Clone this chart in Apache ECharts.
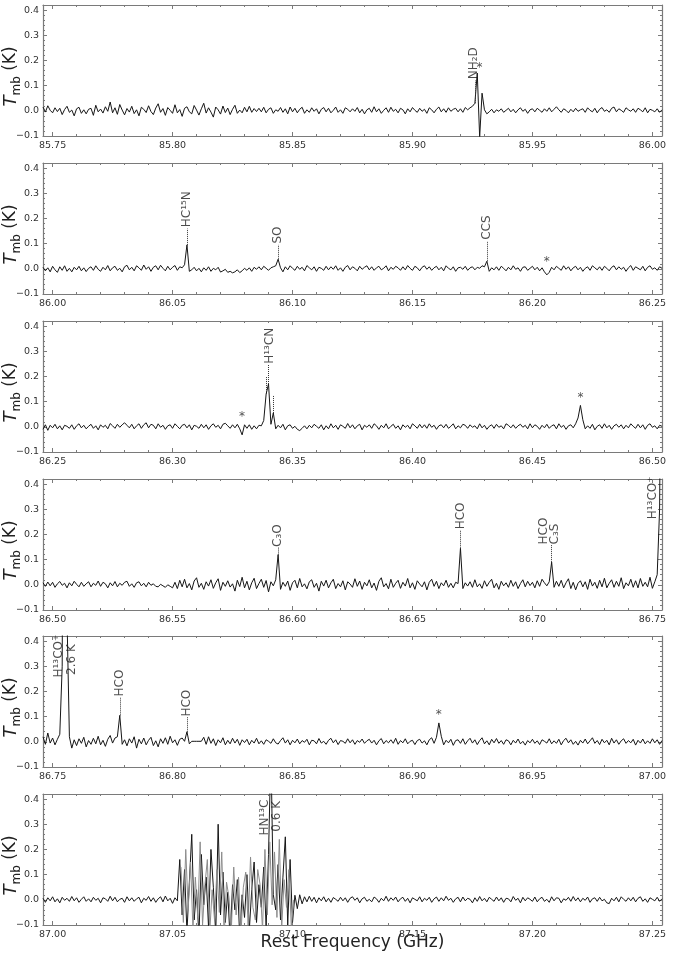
<!DOCTYPE html>
<html>
<head>
<meta charset="utf-8">
<script src="https://cdn.jsdelivr.net/npm/echarts@6/dist/echarts.min.js"></script>
<style>
html, body { margin: 0; padding: 0; background: #fff; }
#chart { width: 677px; height: 959px; }
</style>
</head>
<body>
<div id="chart"></div>
<script>
// panel start frequencies (GHz), one channel = 1 MHz
const panelStarts = [85.746, 85.996, 86.246, 86.496, 86.746, 86.996];
const panelSpan = 0.258;
const chanStep = 0.001;

// tick labels
const xMajorTicks = [
  [85.75, 85.80, 85.85, 85.90, 85.95, 86.00],
  [86.00, 86.05, 86.10, 86.15, 86.20, 86.25],
  [86.25, 86.30, 86.35, 86.40, 86.45, 86.50],
  [86.50, 86.55, 86.60, 86.65, 86.70, 86.75],
  [86.75, 86.80, 86.85, 86.90, 86.95, 87.00],
  [87.00, 87.05, 87.10, 87.15, 87.20, 87.25]
];
const yMajorTicks = [-0.1, 0.0, 0.1, 0.2, 0.3, 0.4];

// spectra, Tmb in mK, one value per channel from panel start
const spec1 = [
  15,-5,20,2,-8,12,-3,10,-15,5,18,-6,3,-20,8,14,-10,4,-12,6,
  10,-18,22,-4,7,-9,16,-2,35,-8,12,-14,25,3,-16,9,-5,18,-11,4,
  -20,14,6,-7,20,-3,-15,11,28,-6,9,-18,13,2,-10,24,-8,5,-22,10,
  16,-4,-12,21,3,-17,8,30,-9,12,-5,-25,15,4,-13,19,-7,11,-15,6,
  22,-10,3,-8,14,-4,18,-6,9,-3,
  10,-4,14,-8,6,12,-10,4,-2,13,-6,8,-12,15,-4,10,-8,6,14,-10,
  4,-6,12,-2,8,-12,6,13,-4,10,-8,2,15,-6,4,-10,12,6,-4,8,
  -2,13,-8,6,-12,4,10,-6,16,-4,8,-10,2,12,-6,14,-2,6,-8,10,
  4,-12,8,-4,13,2,-6,10,-2,6,-10,12,4,-8,6,15,-4,8,-6,12,
  -2,6,10,-4,8,-6,13,4,12,
  18,30,150,-105,70,4,
  -12,-4,6,-8,4,-2,8,-6,2,10,-4,6,-8,4,12,-2,6,-10,4,8,
  -4,10,2,-6,8,-2,12,-4,6,16,4,-6,8,2,-8,6,-4,10,-2,4,
  8,-6,12,2,-4,10,-8,6,13,-2,4,-6,10,15,-4,8,2,-6,12,4,
  -2,8,-6,10,4,-4,12,-8,6,2,-4,8,-6,4
];
const spec2 = [
  6,-8,4,-12,10,-4,-14,8,-6,12,-10,2,-12,6,-4,10,-8,4,-11,2,
  8,-6,12,-2,-10,6,-4,13,-8,4,10,-6,2,-12,8,14,-4,6,-8,12,
  4,-6,15,-2,8,-10,6,12,-4,14,2,-8,10,-4,6,13,-6,8,4,16,
  95,
  -10,-4,6,-8,2,-12,4,-6,8,-10,2,-4,6,-13,-8,-2,-14,-10,-16,
  -12,-4,-15,-8,2,-6,4,-10,6,-2,8,-4,10,2,-6,4,8,12,
  38,
  4,-12,8,-4,12,2,-6,10,-2,6,-8,13,4,-4,8,-10,6,2,-6,10,-4,
  8,-2,12,-6,4,-10,6,13,-4,8,2,-8,10,-2,6,12,-4,8,-6,4,
  10,-4,2,12,-8,6,-2,10,4,-6,8,-4,13,2,-6,10,4,-8,6,12,
  -2,8,-6,4,10,-4,6,-8,12,2,-4,8,-10,4,6,-2,10,-6,4,8,-4,6,2,12,8,
  30,
  -10,4,-4,8,-6,10,2,-8,6,-4,12,-2,4,-10,6,8,-6,2,10,-4,6,-8,4,-12,
  -24,
  -14,6,-4,10,2,-6,12,-2,8,-8,4,10,-4,6,-10,2,8,-6,12,4,
  -4,8,-6,10,2,-8,6,12,-4,8,-2,6,-10,4,13,-6,8,2,-4,10,-8,6,12,-2,4,-6,8,2
];
const spec3 = [
  -10,8,-14,6,-4,10,-8,4,-12,6,2,-6,8,-10,4,12,-4,6,-8,2,
  10,-6,4,-12,8,-2,6,-8,13,4,-6,10,-2,8,16,6,-4,10,-8,4,
  12,-6,8,16,-4,10,6,-8,12,-2,6,-10,4,8,-6,12,2,-8,6,10,
  -4,8,-12,6,2,-6,10,-4,8,-10,4,12,-2,6,-8,10,14,4,-6,8,
  -4,10,-8,
  -32,
  8,-6,8,-10,4,-8,6,4,
  25,130,170,10,55,
  -8,6,-4,10,-12,4,8,-6,2,-10,-15,-6,4,-8,6,-4,10,2,-6,8,-12,4,-8,
  12,-4,6,-10,8,2,-6,13,-4,8,-8,4,10,-12,6,-2,8,-6,12,4,
  -10,6,-4,12,-8,2,10,-6,4,-12,8,-2,6,-8,12,4,-6,10,-4,8,
  -6,12,-2,6,-10,4,8,-4,10,-6,2,12,-8,4,-4,10,6,-6,8,-2,
  4,-8,12,-4,6,-10,2,8,-6,10,-2,4,-8,12,6,-4,8,-6,4,10,
  -2,6,-8,12,-4,8,2,-10,6,-4,10,-6,4,8,-8,12,-2,6,-10,4,8,-4,12,
  35,85,28,
  -8,4,-6,10,-12,2,8,-6,12,-4,6,-10,4,10,-2,8,-8,6,-4,12,2,-6,10,-4,8,-10,6,12,-2,4,-8,6,2
];
const spec4 = [
  8,-6,11,-4,10,-10,4,13,-2,6,-12,8,-4,14,2,-8,10,-6,4,12,
  -8,6,-2,15,-6,10,4,-12,8,-4,13,-8,6,-2,10,14,-6,4,-10,8,
  12,-4,6,-8,10,-2,4,-6,-8,2,-4,-10,0,-6,-12,
  10,-15,18,-8,22,-12,5,-20,15,28,-10,6,-18,12,-5,20,-14,8,24,-22,10,-6,16,-9,4,
  -25,18,-7,30,-12,14,-20,8,26,-15,5,22,-10,17,-28,12,-4,20,
  120,
  -18,10,-6,15,-22,8,18,-12,25,-8,4,-16,12,20,-10,6,-25,14,-5,18,-12,
  8,22,-15,5,-8,16,-20,12,3,-10,24,-6,15,-18,10,-4,20,-12,7,-22,
  14,28,-8,5,-16,22,-10,6,18,-14,10,-5,25,-12,8,-18,16,3,-8,12,
  -20,10,22,-6,14,-15,8,-4,18,-10,6,-12,10,5,
  145,
  -15,8,-5,12,-10,20,-8,4,-14,16,-6,10,22,-12,6,-18,14,-4,8,-10,18,-6,12,-15,5,20,-8,14,-3,10,-12,16,-6,22,8,-4,12,
  90,
  -10,14,-6,18,-12,8,24,-15,10,-20,6,16,-8,12,-18,22,-5,10,-14,18,-8,26,-12,6,20,-10,14,-6,28,-15,8,-4,22,-10,16,-12,25,-6,10,-8,30,-14,12,
  40,300,1500
];
const spec5 = [
  20,-10,35,-5,15,-12,10,
  30,300,2600,500,20,-25,
  8,-15,12,-6,18,-20,5,-10,14,-8,22,-12,6,-18,10,25,-5,15,
  20,105,-10,
  8,-16,12,-5,20,-25,10,-8,15,-12,6,18,-15,4,-20,12,-6,16,-10,22,-4,8,-14,10,15,2,
  40,
  -8,2,2,2,2,2,
  18,-10,20,-6,12,-15,8,-4,16,-12,6,-8,14,-5,10,-14,8,-3,
  10,-12,6,-5,14,-8,4,-10,8,2,-6,12,-4,-9,5,16,-5,8,-12,6,
  -4,11,-8,5,-2,10,-12,6,4,-8,13,-5,2,-10,6,14,-4,8,-11,5,
  2,-6,12,-4,8,-10,5,-2,11,-6,4,10,-5,6,-12,4,13,-8,5,-4,
  8,-6,14,-10,5,-4,12,-8,2,6,-11,5,10,-5,4,-12,8,16,-6,
  18,75,22,
  -12,6,-4,10,-14,5,8,-6,12,-10,4,14,-5,8,-11,5,16,-8,4,-12,10,-4,13,-6,
  5,-10,8,4,-12,6,-5,11,-8,2,-13,5,-4,10,-6,4,-11,8,2,-5,
  12,-8,4,-6,10,-12,5,14,-4,8,-10,2,-13,6,-5,11,-8,4,16,-6,
  5,-11,10,-4,6,-12,14,-5,8,-10,4,12,-6,5,-4,10,-13,6,-5,11,-8,4,-6,12,-4,8,-10,5
];
const spec6 = [
  6,-10,8,-4,12,-8,4,-12,10,-2,6,-6,13,-4,8,-10,2,12,-6,4,
  -8,10,-2,6,-12,8,4,-6,14,-4,10,-8,2,6,-10,12,-4,8,-6,4,
  10,-12,6,-2,13,-6,8,-10,4,12,-8,15,-4,6,-14,8,-4,
  160,-60,120,-130,70,260,-80,40,-150,180,
  -20,90,-110,200,50,-140,300,-60,110,-90,
  30,-160,60,-40,80,-150,20,-70,100,-120,
  40,150,-90,60,-30,130,-110,180,600,20,
  -40,140,-80,90,250,-100,160,-90,
  18,-35,20,-16,12,-8,14,-6,10,-12,8,-4,12,-8,6,-10,9,2,-6,10,
  -4,8,-10,6,12,-2,8,-12,4,10,-6,2,-8,11,4,-10,6,-4,14,-6,
  8,-2,11,-8,4,10,-6,6,-12,8,2,-4,12,-8,6,-2,10,-10,4,11,
  -6,8,-4,14,-2,6,-10,4,10,-8,11,-4,6,2,-12,8,-6,13,-4,6,
  -8,10,2,-6,11,-4,8,-10,6,4,-8,13,-2,6,-12,10,-4,8,2,-6,
  11,-8,4,10,-6,2,-10,12,-4,8,6,-12,4,-2,10,-6,13,-4,8,-8,
  6,-2,11,-10,4,8,-6,10,-4,2,-12,-15,6,-4,10,-8,12,2,-6,8,
  -4,10,-8,6,12,-6,4,-10,8,2,-4,10,-6,4
];
// second (grey) spectrum over the HN13C band, offset half a channel
const grey6Start = 87.0535;
const grey6 = [
  130,-90,200,-40,150,-120,90,-70,230,-100,
  60,160,-130,40,-80,120,-50,190,-150,70,
  10,-120,130,-60,90,-140,50,110,-100,170,
  -30,-80,120,60,-120,200,-60,230,-20,190,
  -70,240,-110,80,-30,120,-110,0
];
const spectra = [spec1, spec2, spec3, spec4, spec5, spec6];

// line identifications: [freq, y of text foot, text]
const tags = [
  [[85.9255, 0.125, 'NH₂D']],
  [[86.056, 0.165, 'HC¹⁵N'], [86.094, 0.1, 'SO'], [86.181, 0.115, 'CCS']],
  [[86.3405, 0.25, 'H¹³CN']],
  [[86.594, 0.15, 'C₃O'], [86.670, 0.22, 'HCO'], [86.7048, 0.16, 'HCO'], [86.7095, 0.16, 'C₃S'], [86.7502, 0.26, 'H¹³CO⁺']],
  [[86.7528, 0.255, 'H¹³CO⁺'], [86.758, 0.265, '2.6 K'], [86.778, 0.18, 'HCO'], [86.806, 0.1, 'HCO']],
  [[87.0885, 0.255, 'HN¹³C'], [87.0935, 0.27, '0.6 K']]
];
// dotted leaders: [freq, from, to]
const leaders = [
  [[85.926, 0.03, 0.12]],
  [[86.056, 0.095, 0.16], [86.094, 0.038, 0.095], [86.181, 0.03, 0.11]],
  [[86.339, 0.13, 0.2], [86.340, 0.17, 0.245], [86.342, 0.055, 0.125]],
  [[86.594, 0.12, 0.148], [86.670, 0.145, 0.218], [86.708, 0.09, 0.158]],
  [[86.778, 0.105, 0.178], [86.806, 0.04, 0.098]],
  []
];
// unidentified features marked with *
const stars = [
  [[85.928, 0.17]],
  [[86.206, 0.028]],
  [[86.329, 0.04], [86.470, 0.115]],
  [],
  [[86.911, 0.105]],
  []
];

const gridTops = [5, 163, 321, 479, 636, 794];
const FONT = 'DejaVu Sans';
const frameColor = '#7a7a7a';

let myChart = echarts.init(document.getElementById('chart'));

function minorX(s) {
  let out = [];
  for (let k = Math.ceil(s * 100 - 1e-6); k <= Math.floor((s + panelSpan) * 100 + 1e-6); k++) {
    if (k % 5 !== 0) out.push(k / 100);
  }
  return out;
}
let yMinor = [];
for (let k = -5; k <= 21; k++) if (k % 5 !== 0) yMinor.push(k * 0.02);

let grids = [], xAxes = [], yAxes = [], series = [];

panelStarts.forEach((s, k) => {
  grids.push({ left: 43, width: 619, top: gridTops[k], height: 131, show: false, containLabel: false, outerBoundsMode: 'none' });

  let xBase = {
    type: 'value', gridIndex: k, min: s, max: s + panelSpan,
    splitLine: { show: false },
    axisLine: { show: true, onZero: false, lineStyle: { color: frameColor, width: 1.2 } },
    axisLabel: { show: false }
  };
  // bottom major (labels)
  xAxes.push(Object.assign({}, xBase, {
    position: 'bottom',
    axisTick: { show: true, inside: true, length: 4, customValues: xMajorTicks[k], lineStyle: { color: frameColor } },
    axisLabel: {
      show: true, customValues: xMajorTicks[k], margin: 5, fontSize: 9.5, color: '#333', fontFamily: FONT,
      formatter: v => v.toFixed(2)
    },
    name: k === 5 ? 'Rest Frequency (GHz)' : '',
    nameLocation: 'middle', nameGap: 9, nameMoveOverlap: false,
    nameTextStyle: { fontSize: 17, color: '#222', fontFamily: FONT }
  }));
  // top major
  xAxes.push(Object.assign({}, xBase, {
    position: 'top',
    axisTick: { show: true, inside: true, length: 4, customValues: xMajorTicks[k], lineStyle: { color: frameColor } }
  }));
  // minor ticks
  ['bottom', 'top'].forEach(pos => {
    xAxes.push(Object.assign({}, xBase, {
      position: pos,
      axisLine: { show: false, onZero: false },
      axisTick: { show: true, inside: true, length: 2, customValues: minorX(s), lineStyle: { color: frameColor } }
    }));
  });

  let yBase = {
    type: 'value', gridIndex: k, min: -0.1, max: 0.42,
    splitLine: { show: false },
    axisLine: { show: true, onZero: false, lineStyle: { color: frameColor, width: 1.2 } },
    axisLabel: { show: false }
  };
  yAxes.push(Object.assign({}, yBase, {
    position: 'left',
    axisTick: { show: true, inside: true, length: 4, customValues: yMajorTicks, lineStyle: { color: frameColor } },
    axisLabel: {
      show: true, customValues: yMajorTicks, margin: 4, fontSize: 9.5, color: '#333', fontFamily: FONT,
      formatter: v => (v < 0 ? '\u2212' + (-v).toFixed(1) : v.toFixed(1))
    },
    name: '{t|T}{s|mb}{k| (K)}',
    nameLocation: 'middle', nameRotate: 90, nameGap: 20, nameMoveOverlap: false,
    nameTextStyle: {
      color: '#222', fontFamily: FONT, padding: [0, 12, 0, 0],
      rich: {
        t: { fontSize: 18, fontStyle: 'italic', lineHeight: 24, verticalAlign: 'middle', fontFamily: FONT, color: '#222' },
        s: { fontSize: 12, lineHeight: 12, verticalAlign: 'bottom', fontFamily: FONT, color: '#222' },
        k: { fontSize: 17, lineHeight: 24, verticalAlign: 'middle', fontFamily: FONT, color: '#222' }
      }
    }
  }));
  yAxes.push(Object.assign({}, yBase, {
    position: 'right',
    axisTick: { show: true, inside: true, length: 4, customValues: yMajorTicks, lineStyle: { color: frameColor } }
  }));
  ['left', 'right'].forEach(pos => {
    yAxes.push(Object.assign({}, yBase, {
      position: pos,
      axisLine: { show: false, onZero: false },
      axisTick: { show: true, inside: true, length: 2, customValues: yMinor, lineStyle: { color: frameColor } }
    }));
  });

  let xi = 4 * k, yi = 4 * k;
  let pts = spectra[k].map((v, i) => [s + i * chanStep, v / 1000]);

  series.push({
    type: 'line', xAxisIndex: xi, yAxisIndex: yi, data: pts,
    showSymbol: false, symbol: 'none', clip: true, animation: false,
    lineStyle: { color: '#161616', width: 1 },
    markLine: {
      silent: true, symbol: ['none', 'none'], animation: false,
      label: { show: false },
      lineStyle: { color: '#333', width: 1, type: [1, 1] },
      data: leaders[k].map(l => [{ coord: [l[0], l[1]] }, { coord: [l[0], l[2]] }])
    }
  });

  if (k === 5) {
    series.push({
      type: 'line', xAxisIndex: xi, yAxisIndex: yi,
      data: grey6.map((v, i) => [grey6Start + i * chanStep, v / 1000]),
      showSymbol: false, symbol: 'none', clip: true, animation: false,
      lineStyle: { color: '#8c8c8c', width: 1 }
    });
  }

  let annot = tags[k].map(t => ({
    value: [t[0], t[1]],
    label: {
      show: true, position: [0, 0], rotate: 90, align: 'left', verticalAlign: 'middle',
      formatter: t[2], fontSize: 12, fontFamily: FONT, color: '#1e1e1e'
    }
  })).concat(stars[k].map(t => ({
    value: [t[0], t[1]],
    label: {
      show: true, position: [0, 0], align: 'center', verticalAlign: 'middle',
      formatter: '*', fontSize: 12, fontFamily: FONT, color: '#1e1e1e'
    }
  })));
  series.push({
    type: 'scatter', xAxisIndex: xi, yAxisIndex: yi, data: annot,
    symbolSize: 0.1, itemStyle: { color: 'rgba(0,0,0,0)' },
    silent: true, animation: false, clip: false
  });
});

myChart.setOption({
  animation: false,
  textStyle: { fontFamily: FONT },
  grid: grids,
  xAxis: xAxes,
  yAxis: yAxes,
  series: series
});
</script>
</body>
</html>
